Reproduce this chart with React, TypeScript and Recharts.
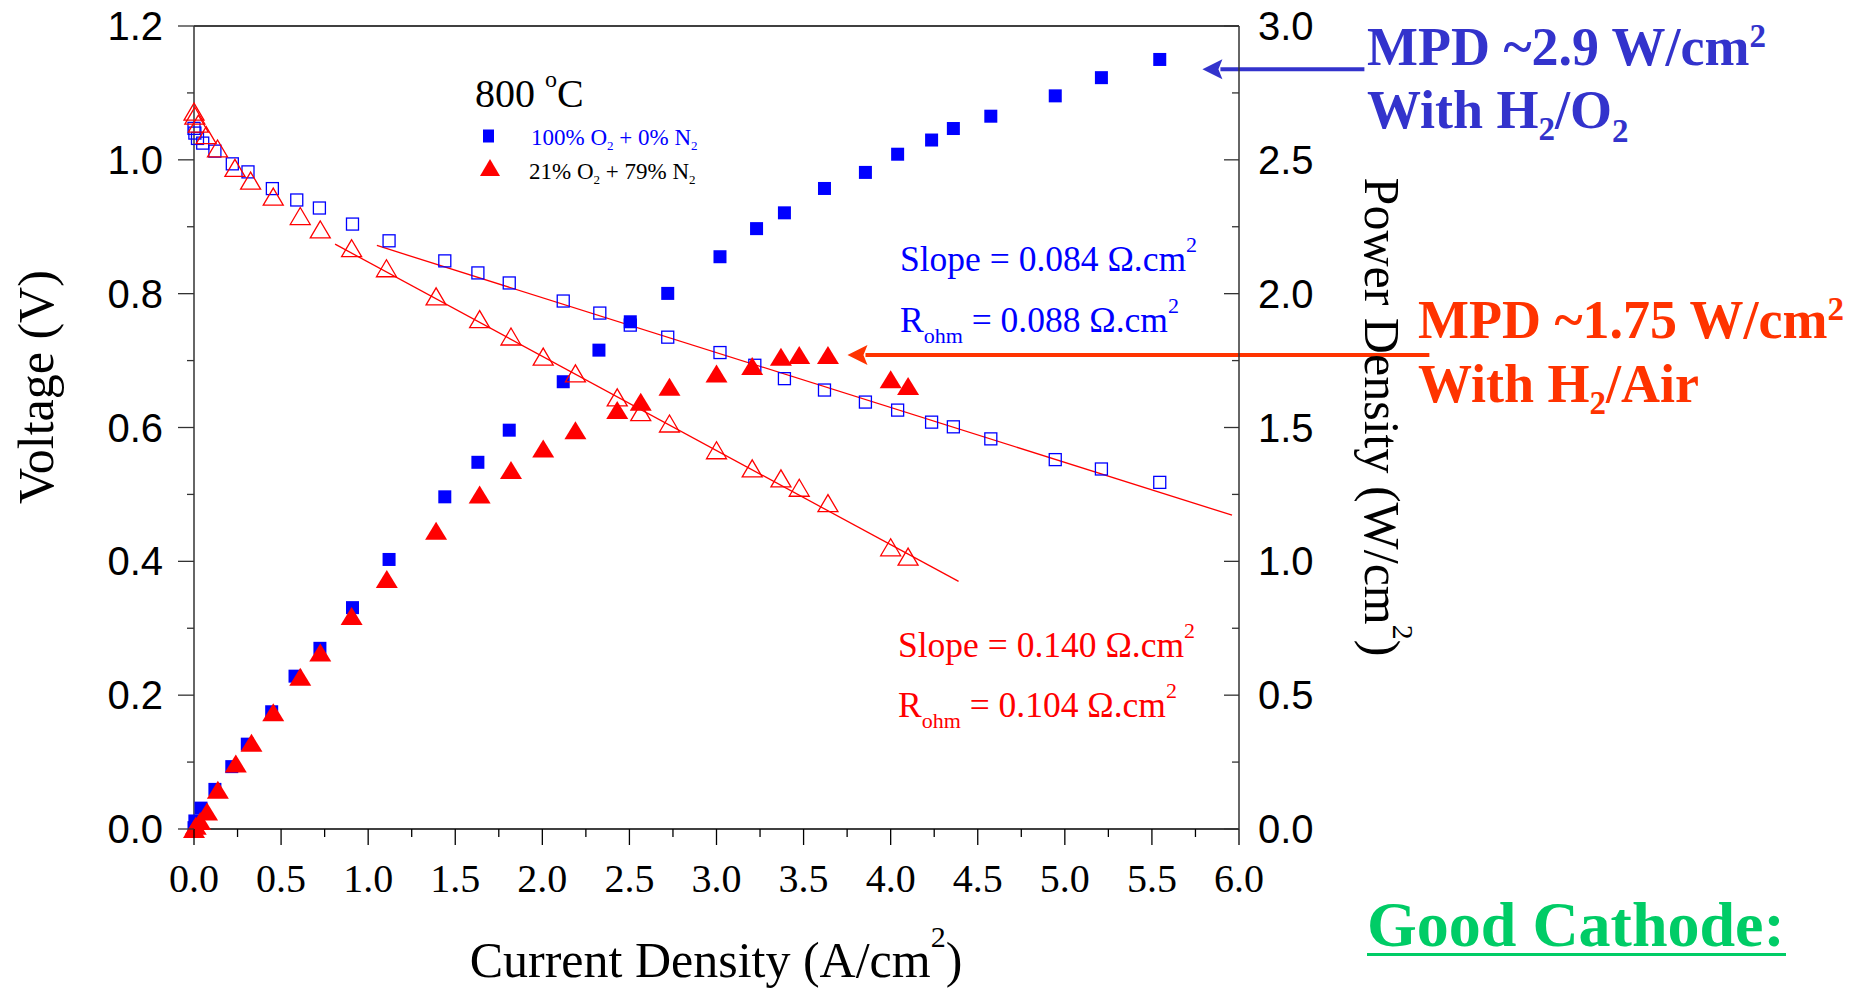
import React from 'react';
import { ScatterChart, Scatter, XAxis, YAxis, ReferenceLine } from 'recharts';

// ---------------- data ----------------
// H2/O2 (100% O2 + 0% N2): voltage (hollow squares)
const o2VoltageCurrent = [0.0, 0.005, 0.02, 0.05, 0.12, 0.22, 0.31, 0.45, 0.59, 0.72, 0.91, 1.12, 1.44, 1.63, 1.81, 2.12, 2.33, 2.505, 2.72, 3.02, 3.22, 3.39, 3.62, 3.855, 4.04, 4.235, 4.36, 4.575, 4.945, 5.21, 5.545];
const o2Voltage = [1.047, 1.04, 1.032, 1.025, 1.013, 0.994, 0.982, 0.957, 0.94, 0.928, 0.904, 0.879, 0.849, 0.831, 0.816, 0.789, 0.771, 0.753, 0.735, 0.712, 0.693, 0.673, 0.656, 0.638, 0.626, 0.608, 0.601, 0.583, 0.552, 0.538, 0.518];
// H2/O2: power density (filled squares)
const o2PowerCurrent = [0.0, 0.005, 0.04, 0.12, 0.217, 0.306, 0.446, 0.58, 0.723, 0.91, 1.12, 1.44, 1.63, 1.81, 2.12, 2.325, 2.505, 2.72, 3.02, 3.23, 3.39, 3.62, 3.855, 4.04, 4.235, 4.36, 4.575, 4.945, 5.21, 5.545];
const o2Power = [0.005, 0.03, 0.078, 0.148, 0.233, 0.317, 0.438, 0.571, 0.675, 0.827, 1.007, 1.241, 1.37, 1.49, 1.671, 1.789, 1.895, 2.001, 2.138, 2.243, 2.302, 2.393, 2.453, 2.521, 2.574, 2.617, 2.663, 2.739, 2.807, 2.875];
// H2/Air (21% O2 + 79% N2): voltage (hollow triangles)
const airVoltageCurrent = [0.0, 0.005, 0.025, 0.07, 0.135, 0.235, 0.325, 0.455, 0.61, 0.725, 0.905, 1.105, 1.39, 1.64, 1.82, 2.005, 2.19, 2.43, 2.565, 2.73, 3.0, 3.205, 3.37, 3.475, 3.64, 4.0, 4.1];
const airVoltage = [1.072, 1.066, 1.054, 1.037, 1.017, 0.988, 0.969, 0.945, 0.916, 0.896, 0.868, 0.838, 0.796, 0.762, 0.736, 0.706, 0.681, 0.645, 0.623, 0.606, 0.566, 0.539, 0.524, 0.51, 0.487, 0.421, 0.407];
// H2/Air: power density (filled triangles)
const airPowerCurrent = [0.0, 0.01, 0.035, 0.075, 0.137, 0.24, 0.33, 0.455, 0.61, 0.725, 0.905, 1.107, 1.39, 1.64, 1.82, 2.005, 2.19, 2.43, 2.565, 2.73, 3.0, 3.205, 3.37, 3.475, 3.64, 4.0, 4.1];
const airPower = [0.0, 0.012, 0.03, 0.065, 0.147, 0.245, 0.322, 0.436, 0.569, 0.659, 0.796, 0.934, 1.114, 1.25, 1.341, 1.422, 1.49, 1.565, 1.596, 1.652, 1.702, 1.73, 1.764, 1.771, 1.771, 1.68, 1.655];

// linear fits (ohmic region)
const o2FitCurrent = [1.05, 5.96];
const o2FitVoltage = [0.872, 0.469];
const airFitCurrent = [0.81, 4.39];
const airFitVoltage = [0.874, 0.37];

// MPD arrows (current range, power level)
const o2ArrowCurrent = [5.79, 6.72];
const o2ArrowPower = 2.838;
const airArrowCurrent = [3.752, 7.093];
const airArrowPower = 1.771;

// ticks
const xTicks = [0, 0.25, 0.5, 0.75, 1, 1.25, 1.5, 1.75, 2, 2.25, 2.5, 2.75, 3, 3.25, 3.5, 3.75, 4, 4.25, 4.5, 4.75, 5, 5.25, 5.5, 5.75, 6];
const leftTicks = [0, 0.1, 0.2, 0.3, 0.4, 0.5, 0.6, 0.7, 0.8, 0.9, 1.0, 1.1, 1.2];
const rightTicks = [0, 0.25, 0.5, 0.75, 1, 1.25, 1.5, 1.75, 2, 2.25, 2.5, 2.75, 3];

const zip = (xs: number[], ys: number[]) => xs.map((x, i) => ({ x, y: ys[i] }));
const o2VoltageData = zip(o2VoltageCurrent, o2Voltage);
const o2PowerData = zip(o2PowerCurrent, o2Power);
const airVoltageData = zip(airVoltageCurrent, airVoltage);
const airPowerData = zip(airPowerCurrent, airPower);

const SERIF = "'Liberation Serif', 'Times New Roman', Times, serif";
const SANS = "'Liberation Sans', Arial, Helvetica, sans-serif";
const BLUE = '#0000ff';
const RED = '#ff0000';
const MPD_BLUE = '#3333cc';
const MPD_RED = '#ff3300';
const GREEN = '#00cc66';

const isMajor = (v: number, step: number) => Math.abs(v / step - Math.round(v / step)) < 1e-6;

// ---------------- ticks ----------------
const BottomTick = (props: any) => {
  const { x, y, payload } = props;
  const v = payload.value as number;
  const major = isMajor(v, 0.5);
  return (
    <g>
      <line x1={x} x2={x} y1={y} y2={y + (major ? 16 : 8)} stroke="#000" strokeWidth={1.3} />
      {major && (
        <text x={x} y={y + 63} textAnchor="middle" fontFamily={SERIF} fontSize={40} fill="#000">
          {v.toFixed(1)}
        </text>
      )}
    </g>
  );
};

const TopTick = (props: any) => {
  const { x, y, payload } = props;
  const v = payload.value as number;
  const major = isMajor(v, 0.5);
  return <line x1={x} x2={x} y1={y} y2={y + (major ? 16 : 7)} stroke="#000" strokeWidth={1.3} />;
};

const LeftTick = (props: any) => {
  const { x, y, payload } = props;
  const v = payload.value as number;
  const major = isMajor(v, 0.2);
  return (
    <g>
      <line x1={x - (major ? 16 : 7)} x2={x} y1={y} y2={y} stroke="#333" strokeWidth={1.3} />
      {major && (
        <text x={x - 31} y={y + 14} textAnchor="end" fontFamily={SANS} fontSize={40} fill="#000">
          {v.toFixed(1)}
        </text>
      )}
    </g>
  );
};

const RightTick = (props: any) => {
  const { x, y, payload } = props;
  const v = payload.value as number;
  const major = isMajor(v, 0.5);
  return (
    <g>
      <line x1={x - (major ? 15 : 7)} x2={x} y1={y} y2={y} stroke="#333" strokeWidth={1.3} />
      {major && (
        <text x={x + 19} y={y + 14} textAnchor="start" fontFamily={SANS} fontSize={40} fill="#000">
          {v.toFixed(1)}
        </text>
      )}
    </g>
  );
};

// ---------------- markers ----------------
const FilledSquare = (p: any) => <rect x={p.cx - 6.5} y={p.cy - 6.5} width={13} height={13} fill={BLUE} />;
const HollowSquare = (p: any) => (
  <rect x={p.cx - 6} y={p.cy - 6} width={12} height={12} fill="none" stroke={BLUE} strokeWidth={1.3} />
);
const FilledTriangle = (p: any) => (
  <polygon points={`${p.cx},${p.cy - 9} ${p.cx - 11},${p.cy + 9} ${p.cx + 11},${p.cy + 9}`} fill={RED} />
);
const HollowTriangle = (p: any) => (
  <polygon
    points={`${p.cx},${p.cy - 8.5} ${p.cx - 10},${p.cy + 8.5} ${p.cx + 10},${p.cy + 8.5}`}
    fill="none"
    stroke={RED}
    strokeWidth={1.3}
  />
);

const makeArrow = (color: string) => (p: any) => {
  const { x1, y1, x2, y2 } = p;
  const head = 20;
  return (
    <g>
      <line x1={x1 + head - 2} y1={y1} x2={x2} y2={y2} stroke={color} strokeWidth={4} />
      <polygon points={`${x1},${y1} ${x1 + head},${y1 - 10} ${x1 + head - 4},${y1} ${x1 + head},${y1 + 10}`} fill={color} />
    </g>
  );
};

// ---------------- overlay text ----------------
const Overlay = () => (
  <svg width={1863} height={990} style={{ position: 'absolute', left: 0, top: 0, pointerEvents: 'none' }}>
    {/* axis titles */}
    <text transform="translate(53,387) rotate(-90)" textAnchor="middle" fontFamily={SERIF} fontSize={50} fill="#000">
      Voltage (V)
    </text>
    <text transform="translate(1365,417) rotate(90)" textAnchor="middle" fontFamily={SERIF} fontSize={50} fill="#000">
      Power Density (W/cm<tspan dy={-28} fontSize={30}>2</tspan>
      <tspan dy={28}>)</tspan>
    </text>
    <text x={716} y={977} textAnchor="middle" fontFamily={SERIF} fontSize={50} fill="#000">
      Current Density (A/cm<tspan dy={-30} fontSize={30}>2</tspan>
      <tspan dy={30}>)</tspan>
    </text>

    {/* legend */}
    <text x={475} y={107} fontFamily={SERIF} fontSize={40} fill="#000">
      800 <tspan dy={-20} fontSize={24}>o</tspan>
      <tspan dy={20}>C</tspan>
    </text>
    <rect x={483} y={129.5} width={11} height={13} fill={BLUE} />
    <text x={531} y={145} fontFamily={SERIF} fontSize={23} fill={BLUE}>
      100% O<tspan dy={5} fontSize={13}>2</tspan>
      <tspan dy={-5}> + 0% N</tspan>
      <tspan dy={5} fontSize={13}>2</tspan>
    </text>
    <polygon points="490,159 480,176 500,176" fill={RED} />
    <text x={529} y={179} fontFamily={SERIF} fontSize={23} fill="#000">
      21% O<tspan dy={5} fontSize={13}>2</tspan>
      <tspan dy={-5}> + 79% N</tspan>
      <tspan dy={5} fontSize={13}>2</tspan>
    </text>

    {/* fit annotations */}
    <text x={900} y={271} fontFamily={SERIF} fontSize={35.5} fill={BLUE}>
      Slope = 0.084 Ω.cm<tspan dy={-19} fontSize={22}>2</tspan>
    </text>
    <text x={900} y={332} fontFamily={SERIF} fontSize={35.5} fill={BLUE}>
      R<tspan dy={11} fontSize={22}>ohm</tspan>
      <tspan dy={-11}> = 0.088 Ω.cm</tspan>
      <tspan dy={-19} fontSize={22}>2</tspan>
    </text>
    <text x={898} y={657} fontFamily={SERIF} fontSize={35.5} fill={RED}>
      Slope = 0.140 Ω.cm<tspan dy={-19} fontSize={22}>2</tspan>
    </text>
    <text x={898} y={717} fontFamily={SERIF} fontSize={35.5} fill={RED}>
      R<tspan dy={11} fontSize={22}>ohm</tspan>
      <tspan dy={-11}> = 0.104 Ω.cm</tspan>
      <tspan dy={-19} fontSize={22}>2</tspan>
    </text>

    {/* MPD call-outs */}
    <text x={1367} y={65} fontFamily={SERIF} fontWeight="bold" fontSize={54} fill={MPD_BLUE}>
      MPD ~2.9 W/cm<tspan dy={-18} fontSize={33}>2</tspan>
    </text>
    <text x={1367} y={128} fontFamily={SERIF} fontWeight="bold" fontSize={54} fill={MPD_BLUE}>
      With H<tspan dy={12} fontSize={33}>2</tspan>
      <tspan dy={-12}>/O</tspan>
      <tspan dy={14} fontSize={33}>2</tspan>
    </text>
    <text x={1418} y={338} fontFamily={SERIF} fontWeight="bold" fontSize={54} fill={MPD_RED}>
      MPD ~1.75 W/cm<tspan dy={-18} fontSize={33}>2</tspan>
    </text>
    <text x={1418} y={402} fontFamily={SERIF} fontWeight="bold" fontSize={54} fill={MPD_RED}>
      With H<tspan dy={12} fontSize={33}>2</tspan>
      <tspan dy={-12}>/Air</tspan>
    </text>

    {/* conclusion */}
    <text x={1367} y={946} fontFamily={SERIF} fontWeight="bold" fontSize={64} fill={GREEN}>
      Good Cathode:
    </text>
    <rect x={1367} y={953} width={419} height={3} fill={GREEN} />
  </svg>
);

export default function App() {
  return (
    <div style={{ position: 'absolute', left: 0, top: 0, width: 1863, height: 990, background: '#fff', overflow: 'hidden' }}>
      <ScatterChart width={1863} height={990} margin={{ top: 25, right: 623, bottom: 160, left: 193 }}>
        <XAxis
          xAxisId="b"
          type="number"
          dataKey="x"
          domain={[0, 6]}
          ticks={xTicks}
          interval={0}
          height={1}
          tickSize={0}
          tickMargin={0}
          tickLine={false}
          axisLine={{ stroke: '#000', strokeWidth: 1.3 }}
          tick={(p: any) => <BottomTick {...p} />}
        />
        <XAxis
          xAxisId="t"
          orientation="top"
          type="number"
          dataKey="x"
          domain={[0, 6]}
          ticks={xTicks}
          interval={0}
          height={1}
          tickSize={0}
          tickMargin={0}
          tickLine={false}
          axisLine={{ stroke: '#000', strokeWidth: 1.3 }}
          tick={(p: any) => <TopTick {...p} />}
        />
        <YAxis
          yAxisId="l"
          type="number"
          dataKey="y"
          domain={[0, 1.2]}
          ticks={leftTicks}
          interval={0}
          width={1}
          tickSize={0}
          tickMargin={0}
          tickLine={false}
          axisLine={{ stroke: '#333', strokeWidth: 1.5 }}
          tick={(p: any) => <LeftTick {...p} />}
        />
        <YAxis
          yAxisId="r"
          orientation="right"
          type="number"
          dataKey="y"
          domain={[0, 3]}
          ticks={rightTicks}
          interval={0}
          width={1}
          tickSize={0}
          tickMargin={0}
          tickLine={false}
          axisLine={{ stroke: '#333', strokeWidth: 1.5 }}
          tick={(p: any) => <RightTick {...p} />}
        />

        <Scatter name="O2 voltage" xAxisId="b" yAxisId="l" data={o2VoltageData} shape={HollowSquare} isAnimationActive={false} />
        <Scatter name="O2 power" xAxisId="b" yAxisId="r" data={o2PowerData} shape={FilledSquare} isAnimationActive={false} />
        <Scatter name="Air voltage" xAxisId="b" yAxisId="l" data={airVoltageData} shape={HollowTriangle} isAnimationActive={false} />
        <Scatter name="Air power" xAxisId="b" yAxisId="r" data={airPowerData} shape={FilledTriangle} isAnimationActive={false} />

        <ReferenceLine
          xAxisId="b"
          yAxisId="l"
          segment={[{ x: o2FitCurrent[0], y: o2FitVoltage[0] }, { x: o2FitCurrent[1], y: o2FitVoltage[1] }]}
          stroke={RED}
          strokeWidth={1.3}
          ifOverflow="visible"
        />
        <ReferenceLine
          xAxisId="b"
          yAxisId="l"
          segment={[{ x: airFitCurrent[0], y: airFitVoltage[0] }, { x: airFitCurrent[1], y: airFitVoltage[1] }]}
          stroke={RED}
          strokeWidth={1.3}
          ifOverflow="visible"
        />
        <ReferenceLine
          xAxisId="b"
          yAxisId="r"
          segment={[{ x: o2ArrowCurrent[0], y: o2ArrowPower }, { x: o2ArrowCurrent[1], y: o2ArrowPower }]}
          ifOverflow="visible"
          shape={makeArrow(MPD_BLUE)}
        />
        <ReferenceLine
          xAxisId="b"
          yAxisId="r"
          segment={[{ x: airArrowCurrent[0], y: airArrowPower }, { x: airArrowCurrent[1], y: airArrowPower }]}
          ifOverflow="visible"
          shape={makeArrow(MPD_RED)}
        />
      </ScatterChart>
      <Overlay />
    </div>
  );
}
